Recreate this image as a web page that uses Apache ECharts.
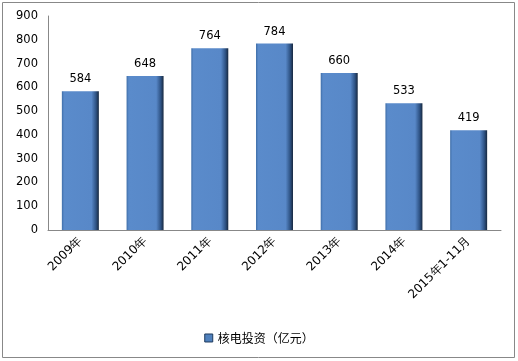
<!DOCTYPE html>
<html><head><meta charset="utf-8">
<script src="https://cdn.jsdelivr.net/npm/echarts@6/dist/echarts.min.js"></script>
<style>html,body{margin:0;padding:0;background:#fff}#c{width:518px;height:361px}</style>
</head><body><div id="c"></div>
<script>
const categories = ['2009年','2010年','2011年','2012年','2013年','2014年','2015年1-11月'];
const values = [584, 648, 764, 784, 660, 533, 419];
const seriesName = '核电投资（亿元）';
const yMin = 0, yMax = 900, yInterval = 100;

const chart = echarts.init(document.getElementById('c'), null, {renderer:'canvas'});
const barColor = new echarts.graphic.LinearGradient(0,0,1,0,[
  {offset:0, color:'#3f6ea8'},
  {offset:0.06, color:'#5a8bcb'},
  {offset:0.8, color:'#5888c8'},
  {offset:0.92, color:'#2f5486'},
  {offset:1, color:'#17283f'}
]);
chart.setOption({
  animation:false,
  textStyle:{fontFamily:'DejaVu Sans'},
  graphic:[{type:'rect', shape:{x:2.5,y:2.5,width:512,height:355}, style:{fill:'none', stroke:'#888', lineWidth:1}, silent:true}],
  grid:{left:48, right:17, top:16, bottom:131, containLabel:false},
  legend:{bottom:12, left:'center', itemWidth:8, itemHeight:8, icon:'rect', itemGap:5,
    textStyle:{fontSize:12, color:'#000', fontFamily:'Noto Sans CJK SC'},
    data:[{name:seriesName, itemStyle:{color:'#4f81bd', borderColor:'#1f3b5e', borderWidth:1}}]},
  xAxis:{type:'category', data:categories,
    axisLine:{lineStyle:{color:'#888'}}, axisTick:{show:false},
    axisLabel:{rotate:45, fontSize:12, color:'#000', margin:9, interval:0}},
  yAxis:{type:'value', min:yMin, max:yMax, interval:yInterval,
    splitLine:{show:false}, axisLine:{show:true, lineStyle:{color:'#888'}}, axisTick:{show:false},
    axisLabel:{fontSize:11.5, color:'#000', margin:10}},
  series:[{type:'bar', name:seriesName, data:values, barWidth:37,
    itemStyle:{color:barColor},
    label:{show:true, position:'top', distance:6, fontSize:11.5, color:'#000'}}]
});
</script></body></html>
